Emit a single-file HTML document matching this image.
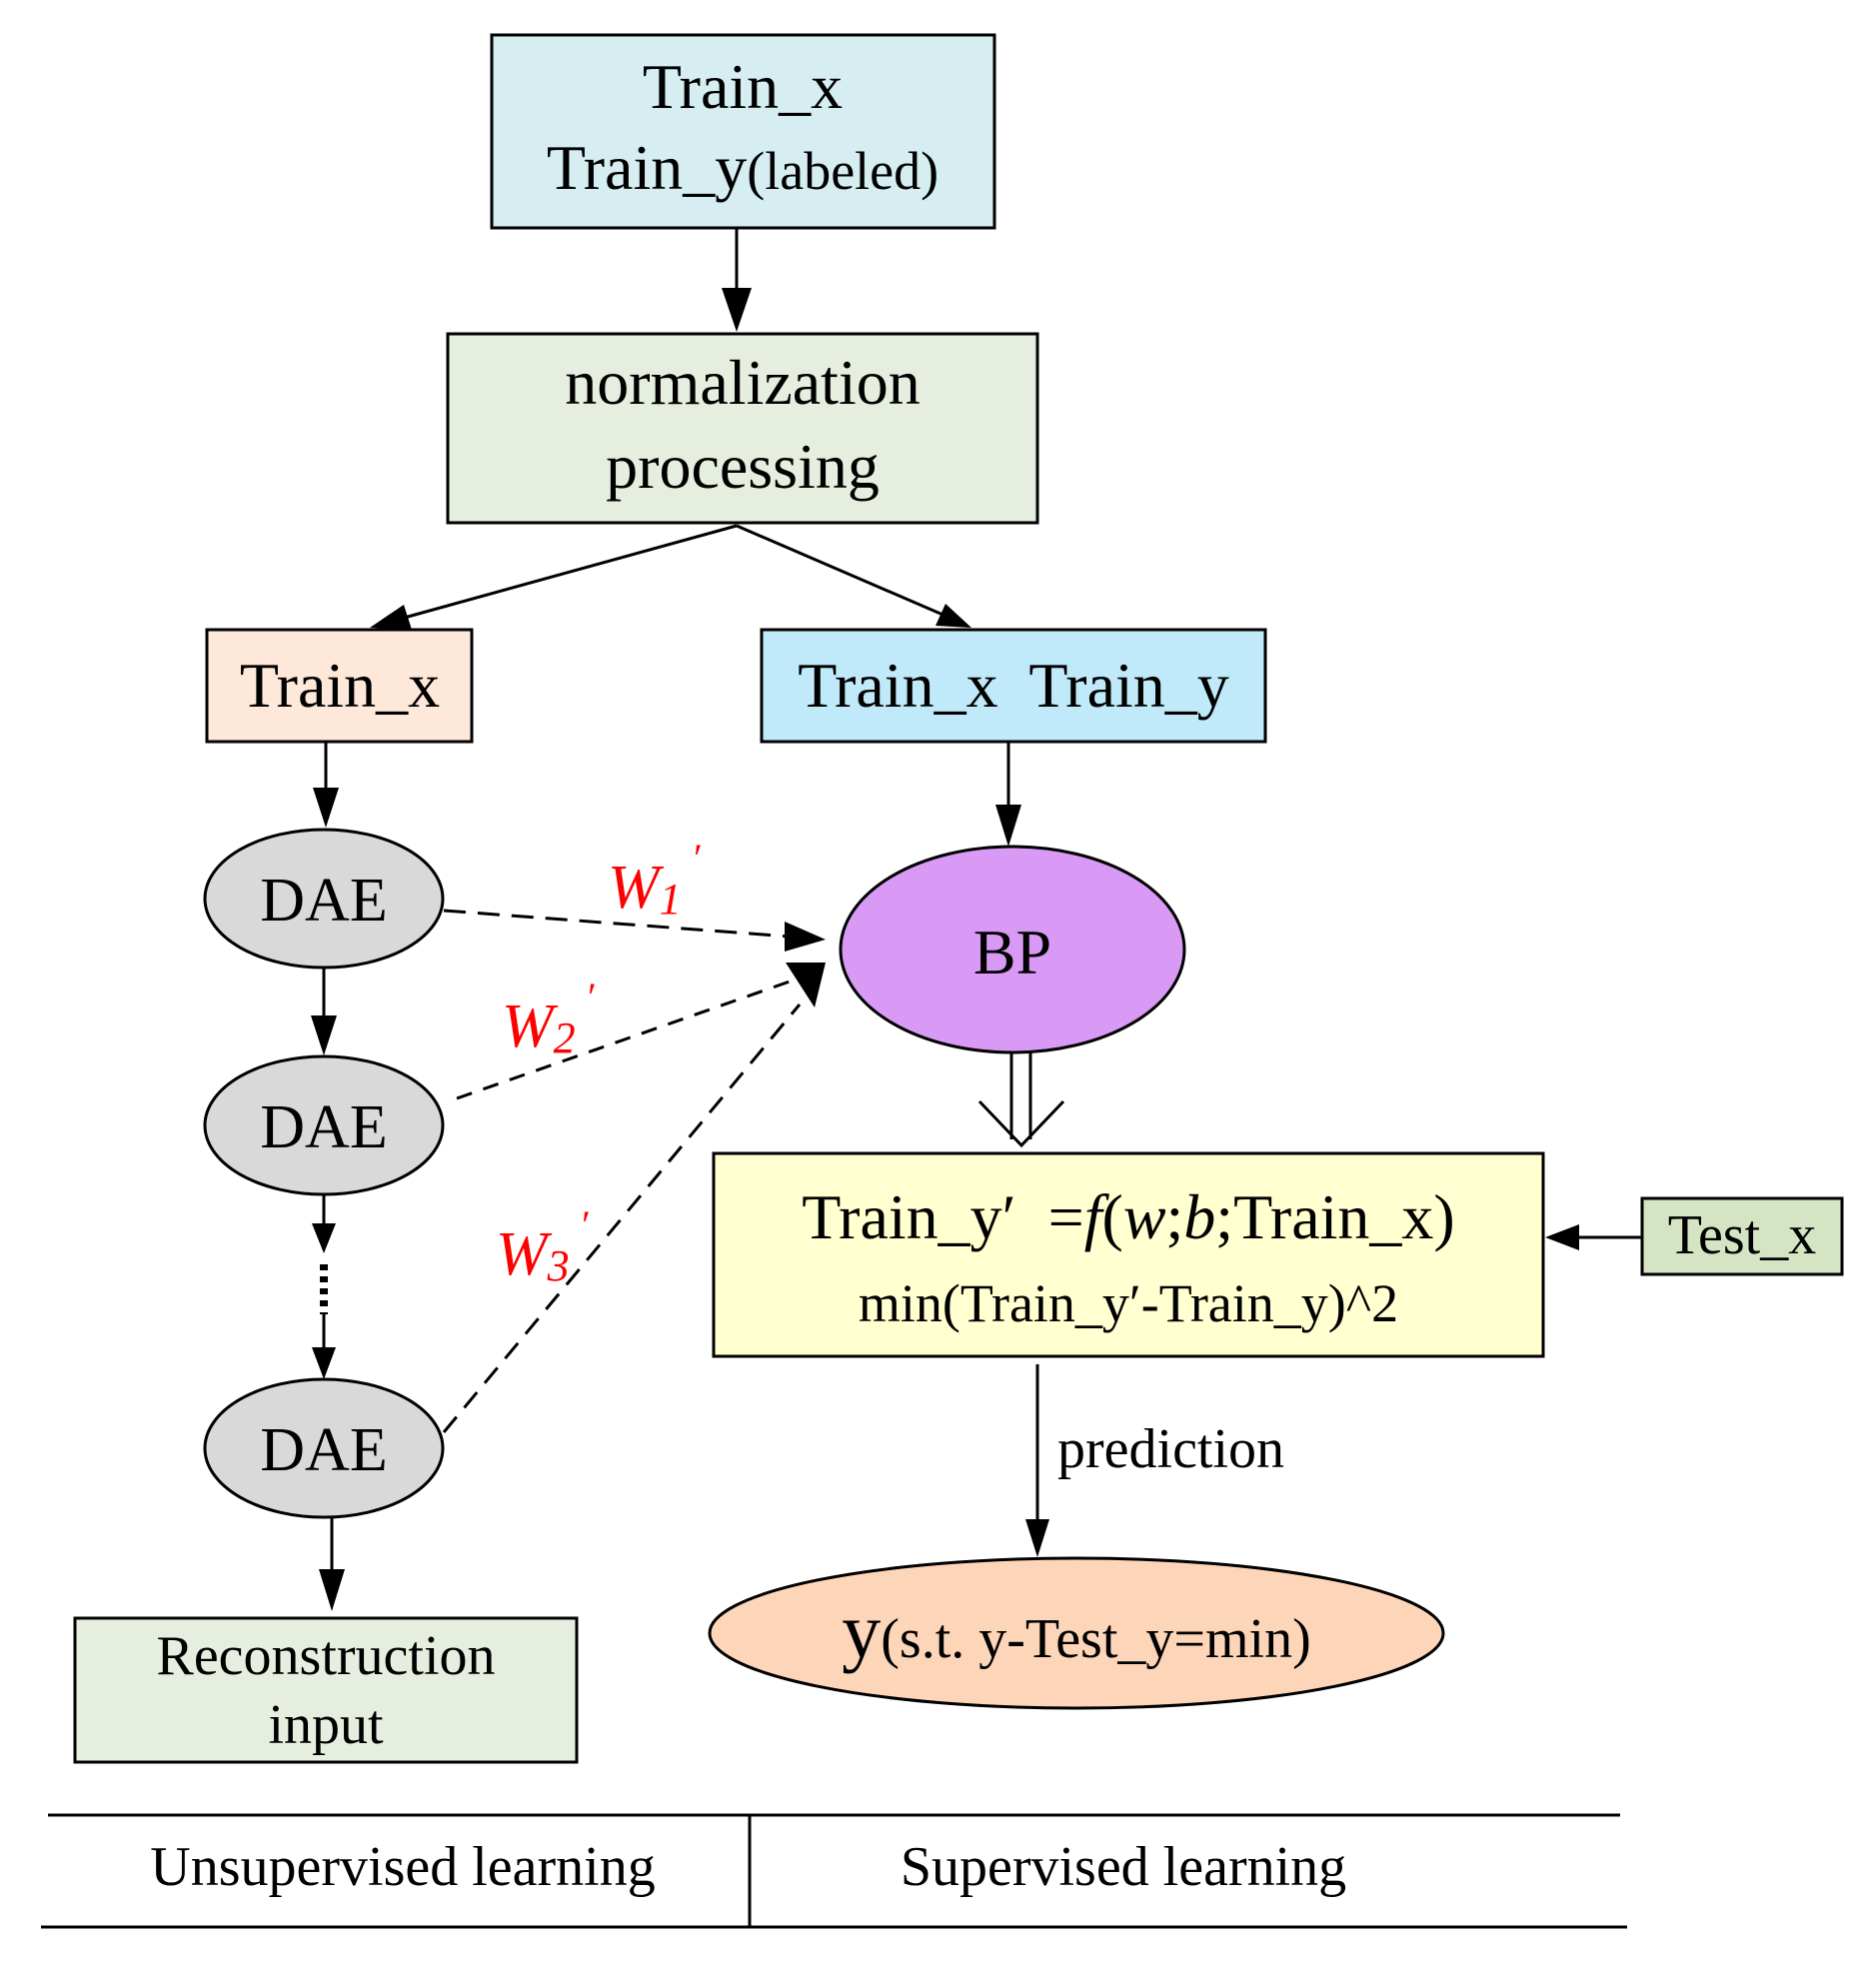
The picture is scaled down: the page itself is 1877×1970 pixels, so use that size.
<!DOCTYPE html>
<html><head><meta charset="utf-8"><style>
html,body{margin:0;padding:0;background:#fff;}
svg{display:block;}
text{font-family:"Liberation Serif",serif;fill:#000;}
</style></head><body>
<svg width="1877" height="1970" viewBox="0 0 1877 1970" xmlns="http://www.w3.org/2000/svg">
<!-- top box -->
<rect x="492" y="35" width="503" height="193" fill="#d6eef2" stroke="#000" stroke-width="3"/>
<text x="743" y="108" font-size="64" text-anchor="middle">Train_x</text>
<text x="743" y="189" font-size="64" text-anchor="middle">Train_y<tspan font-size="54">(labeled)</tspan></text>
<line x1="737" y1="228" x2="737" y2="300" stroke="#000" stroke-width="3"/>
<polygon points="722,288 752,288 737,332" fill="#000"/>
<!-- normalization -->
<rect x="448" y="334" width="590" height="189" fill="#e6efdf" stroke="#000" stroke-width="3"/>
<text x="743" y="404" font-size="64" text-anchor="middle">normalization</text>
<text x="743" y="488" font-size="64" text-anchor="middle">processing</text>
<line x1="737" y1="526" x2="390" y2="622" stroke="#000" stroke-width="3"/>
<polygon points="370,628 404,605 412,630" fill="#000"/>
<line x1="737" y1="526" x2="955" y2="620" stroke="#000" stroke-width="3"/>
<polygon points="972,628 936,626 946,604" fill="#000"/>
<!-- Train_x box -->
<rect x="207" y="630" width="265" height="112" fill="#fde8da" stroke="#000" stroke-width="3"/>
<text x="340" y="707" font-size="64" text-anchor="middle">Train_x</text>
<!-- Train_x Train_y -->
<rect x="762" y="630" width="504" height="112" fill="#c0eaf9" stroke="#000" stroke-width="3"/>
<text x="1014" y="707" font-size="64" text-anchor="middle" xml:space="preserve">Train_x  Train_y</text>
<!-- left chain -->
<line x1="326" y1="742" x2="326" y2="800" stroke="#000" stroke-width="3"/>
<polygon points="313,788 339,788 326,828" fill="#000"/>
<ellipse cx="324" cy="899" rx="119" ry="69" fill="#d9d9d9" stroke="#000" stroke-width="3"/>
<text x="324" y="921" font-size="62" text-anchor="middle">DAE</text>
<line x1="324" y1="968" x2="324" y2="1030" stroke="#000" stroke-width="3"/>
<polygon points="311,1016 337,1016 324,1056" fill="#000"/>
<ellipse cx="324" cy="1126" rx="119" ry="69" fill="#d9d9d9" stroke="#000" stroke-width="3"/>
<text x="324" y="1148" font-size="62" text-anchor="middle">DAE</text>
<line x1="324" y1="1195" x2="324" y2="1230" stroke="#000" stroke-width="3"/>
<polygon points="312,1224 336,1224 324,1254" fill="#000"/>
<line x1="324" y1="1265" x2="324" y2="1315" stroke="#000" stroke-width="8" stroke-dasharray="6,6"/>
<line x1="324" y1="1315" x2="324" y2="1355" stroke="#000" stroke-width="3"/>
<polygon points="312,1348 336,1348 324,1380" fill="#000"/>
<ellipse cx="324" cy="1449" rx="119" ry="69" fill="#d9d9d9" stroke="#000" stroke-width="3"/>
<text x="324" y="1471" font-size="62" text-anchor="middle">DAE</text>
<line x1="332" y1="1519" x2="332" y2="1580" stroke="#000" stroke-width="3"/>
<polygon points="319,1570 345,1570 332,1612" fill="#000"/>
<rect x="75" y="1619" width="502" height="144" fill="#e6efdf" stroke="#000" stroke-width="3"/>
<text x="326" y="1675" font-size="56" text-anchor="middle">Reconstruction</text>
<text x="326" y="1744" font-size="56" text-anchor="middle">input</text>
<!-- dashed -->
<line x1="444" y1="911" x2="790" y2="937" stroke="#000" stroke-width="3" stroke-dasharray="22,12"/>
<polygon points="785,922 785,952 826,940" fill="#000"/>
<line x1="457" y1="1099" x2="790" y2="982" stroke="#000" stroke-width="3" stroke-dasharray="16,12"/>
<line x1="444" y1="1433" x2="800" y2="1005" stroke="#000" stroke-width="3" stroke-dasharray="20,12"/>
<polygon points="786,963 826,963 815,1008" fill="#000"/>
<text x="608" y="908" font-size="62" font-style="italic" style="fill:#f00">W<tspan font-size="44" dy="6">1</tspan><tspan dy="-42" font-size="40"> ′</tspan></text>
<text x="502" y="1047" font-size="62" font-style="italic" style="fill:#f00">W<tspan font-size="44" dy="6">2</tspan><tspan dy="-42" font-size="40"> ′</tspan></text>
<text x="496" y="1275" font-size="62" font-style="italic" style="fill:#f00">W<tspan font-size="44" dy="6">3</tspan><tspan dy="-42" font-size="40"> ′</tspan></text>
<!-- BP -->
<line x1="1009" y1="742" x2="1009" y2="815" stroke="#000" stroke-width="3"/>
<polygon points="996,805 1022,805 1009,847" fill="#000"/>
<ellipse cx="1013" cy="950" rx="172" ry="103" fill="#d99af5" stroke="#000" stroke-width="3"/>
<text x="1013" y="974" font-size="64" text-anchor="middle">BP</text>
<!-- hollow arrow -->
<line x1="1012" y1="1053" x2="1012" y2="1140" stroke="#000" stroke-width="3"/>
<line x1="1031" y1="1053" x2="1031" y2="1140" stroke="#000" stroke-width="3"/>
<polyline points="980,1102 1022,1146 1064,1102" fill="none" stroke="#000" stroke-width="3"/>
<!-- formula -->
<rect x="714" y="1154" width="830" height="203" fill="#ffffd0" stroke="#000" stroke-width="3"/>
<text x="1129" y="1239" font-size="64" text-anchor="middle" xml:space="preserve">Train_y′  =<tspan font-style="italic">f</tspan>(<tspan font-style="italic">w</tspan>;<tspan font-style="italic">b</tspan>;Train_x)</text>
<text x="1129" y="1322" font-size="54" text-anchor="middle">min(Train_y′-Train_y)^2</text>
<!-- Test_x -->
<rect x="1643" y="1199" width="200" height="76" fill="#d5e5c4" stroke="#000" stroke-width="3"/>
<text x="1743" y="1254" font-size="56" text-anchor="middle">Test_x</text>
<line x1="1643" y1="1238" x2="1575" y2="1238" stroke="#000" stroke-width="3"/>
<polygon points="1546,1238 1580,1225 1580,1251" fill="#000"/>
<!-- prediction -->
<line x1="1038" y1="1365" x2="1038" y2="1530" stroke="#000" stroke-width="3"/>
<polygon points="1026,1520 1050,1520 1038,1558" fill="#000"/>
<text x="1058" y="1468" font-size="56">prediction</text>
<ellipse cx="1077" cy="1634" rx="367" ry="75" fill="#fdd5b8" stroke="#000" stroke-width="3"/>
<text x="1077" y="1658" font-size="56" text-anchor="middle"><tspan font-size="78">y</tspan>(s.t. y-Test_y=min)</text>
<!-- bottom table -->
<line x1="48" y1="1816" x2="1621" y2="1816" stroke="#000" stroke-width="3"/>
<line x1="41" y1="1928" x2="1628" y2="1928" stroke="#000" stroke-width="3"/>
<line x1="750" y1="1816" x2="750" y2="1928" stroke="#000" stroke-width="3"/>
<text x="403" y="1886" font-size="56" text-anchor="middle">Unsupervised learning</text>
<text x="1124" y="1886" font-size="56" text-anchor="middle">Supervised learning</text>
</svg>
</body></html>
